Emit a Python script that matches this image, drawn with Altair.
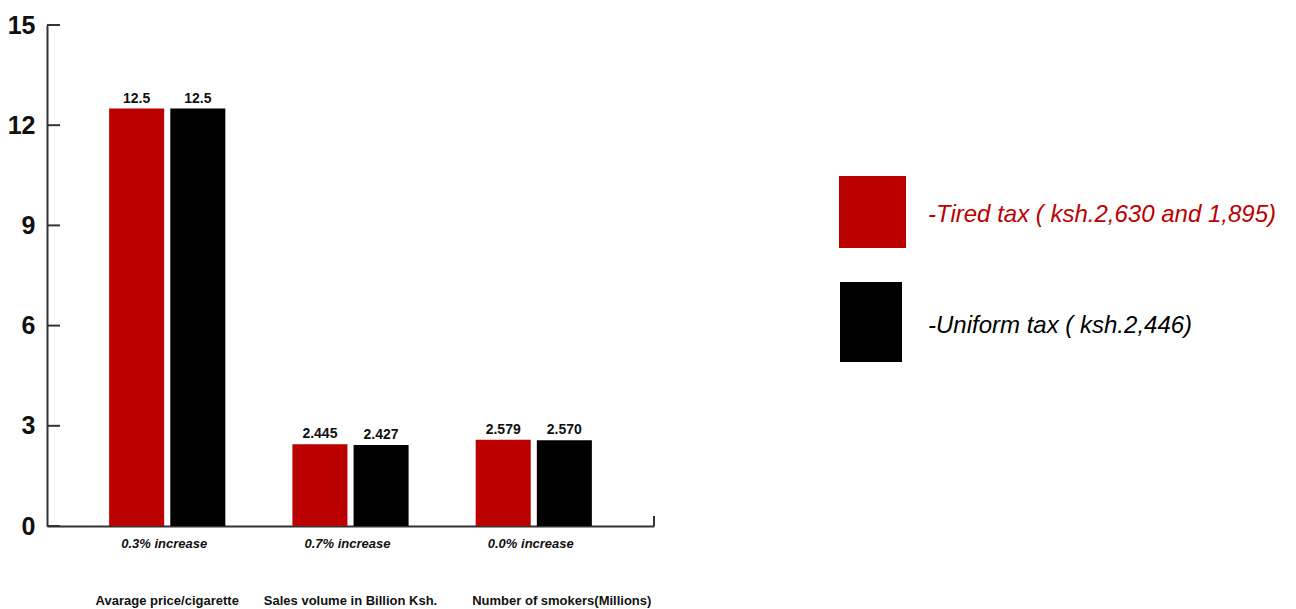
import altair as alt
import pandas as pd

categories = ["Avarage price/cigarette", "Sales volume in Billion Ksh.", "Number of smokers(Millions)"]
increases = ["0.3% increase", "0.7% increase", "0.0% increase"]
series = ["-Tired tax ( ksh.2,630 and 1,895)", "-Uniform tax ( ksh.2,446)"]
tiered_values = [12.5, 2.445, 2.579]
uniform_values = [12.5, 2.427, 2.570]
tiered_labels = ["12.5", "2.445", "2.579"]
uniform_labels = ["12.5", "2.427", "2.570"]
colors = ["#BB0000", "#000000"]
y_ticks = [0, 3, 6, 9, 12, 15]

rows = []
for i, c in enumerate(categories):
    rows.append({"category": c, "series": series[0], "value": tiered_values[i], "label": tiered_labels[i]})
    rows.append({"category": c, "series": series[1], "value": uniform_values[i], "label": uniform_labels[i]})
df = pd.DataFrame(rows)
cat_df = pd.DataFrame({"category": categories, "increase": increases})
tick_df = pd.DataFrame({"v": y_ticks})

FONT = "Liberation Sans"
W, H = 607, 501

xs = alt.X("category:N", sort=categories,
           scale=alt.Scale(paddingInner=0.366, paddingOuter=0.339),
           axis=alt.Axis(labels=False, ticks=False, title=None, domainColor="#333333",
                         domainWidth=2))
xoff = alt.XOffset("series:N", sort=series, scale=alt.Scale(paddingInner=0.1, paddingOuter=0))
ys = alt.Y("value:Q", scale=alt.Scale(domain=[0, 15], nice=False),
           axis=alt.Axis(values=y_ticks, title=None, grid=False, ticks=False,
                         labelFont=FONT, labelFontSize=25, labelFontWeight="bold",
                         labelColor="#111111", labelPadding=12,
                         domainColor="#333333", domainWidth=2))

bars = alt.Chart(df).mark_bar().encode(
    x=xs, xOffset=xoff, y=ys,
    color=alt.Color("series:N", sort=series, scale=alt.Scale(domain=series, range=colors), legend=None),
)
vals = alt.Chart(df).mark_text(font=FONT, fontSize=14, fontWeight="bold", baseline="bottom", dy=-3,
                               color="#111111").encode(
    x=alt.X("category:N", sort=categories), xOffset=alt.XOffset("series:N", sort=series),
    y="value:Q", text="label:N")

inc = alt.Chart(cat_df).mark_text(font=FONT, fontSize=13, fontWeight="bold", fontStyle="italic",
                                  color="#111111", dx=-3).encode(
    x=alt.X("category:N", sort=categories), y=alt.value(H + 18), text="increase:N")
catlab_a = alt.Chart(cat_df).transform_filter(
    alt.datum.category != categories[2]).mark_text(
    font=FONT, fontSize=13, fontWeight="bold", color="#111111").encode(
    x=alt.X("category:N", sort=categories), y=alt.value(H + 75), text="category:N")
catlab_b = alt.Chart(cat_df).transform_filter(
    alt.datum.category == categories[2]).mark_text(
    font=FONT, fontSize=13, fontWeight="bold", color="#111111", dx=28).encode(
    x=alt.X("category:N", sort=categories), y=alt.value(H + 75), text="category:N")

ticks = alt.Chart(tick_df).mark_rule(color="#333333", strokeWidth=2).encode(
    y=alt.Y("v:Q"), x=alt.value(0), x2=alt.value(13))
end_tick = alt.Chart(tick_df.head(1)).mark_rule(color="#333333", strokeWidth=2).encode(
    x=alt.value(W), y=alt.value(H - 10), y2=alt.value(H))

legend_layers = []
leg_pos = [(792, 859, 151, 223, 190), (793, 855, 257, 337, 301)]
for i, s in enumerate(series):
    x1, x2, y1, y2, ty = leg_pos[i]
    one = pd.DataFrame({"series": [s]})
    legend_layers.append(alt.Chart(one).mark_rect(color=colors[i]).encode(
        x=alt.value(x1), x2=alt.value(x2), y=alt.value(y1), y2=alt.value(y2)))
    legend_layers.append(alt.Chart(one).mark_text(font=FONT, fontSize=24, fontStyle="italic",
                                                  align="left", baseline="middle",
                                                  color=colors[i]).encode(
        x=alt.value(881), y=alt.value(ty), text="series:N"))

chart = alt.layer(bars, vals, inc, catlab_a, catlab_b, ticks, end_tick, *legend_layers).properties(
    width=W, height=H,
    autosize=alt.AutoSizeParams(type="none"),
    padding={"left": 39, "top": 17, "right": 1280 - 39 - W, "bottom": 90},
).configure_view(stroke=None).configure_axis(labelFont=FONT)

chart.save("out.html", embed_options={"renderer": "svg", "actions": False})
